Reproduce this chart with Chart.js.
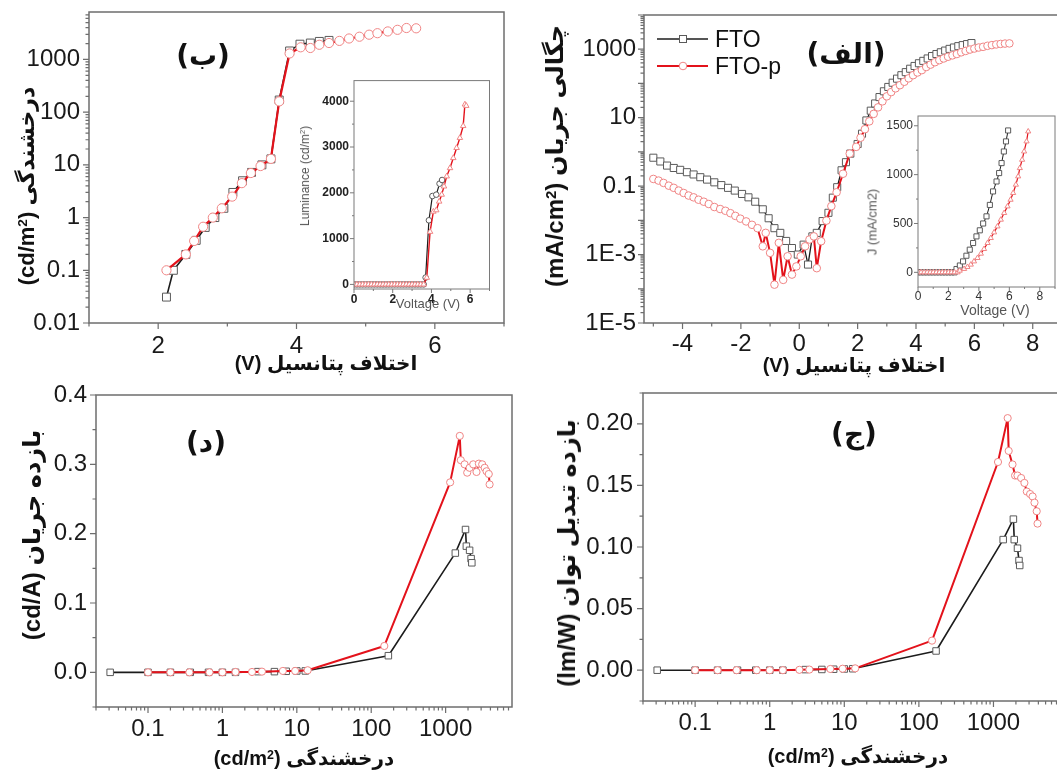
<!DOCTYPE html>
<html lang="fa"><head><meta charset="utf-8"><title>FTO / FTO-p</title>
<script src="https://cdn.jsdelivr.net/npm/chart.js@4.4.1/dist/chart.umd.min.js"></script>
<style>
html,body{margin:0;padding:0;background:#fff;overflow:hidden;}
body{width:1057px;height:771px;position:relative;font-family:"Liberation Sans","DejaVu Sans",sans-serif;color:#111;}
canvas{position:absolute;}
.t{position:absolute;white-space:nowrap;transform:translate(-50%,-50%);line-height:1;}
.fa{font-family:"Liberation Sans","DejaVu Sans",sans-serif;font-weight:bold;font-size:20px;color:#111;}
.fy{font-size:24px;}
.rot{transform:translate(-50%,-50%) rotate(-90deg);}
.lbl{font-family:"DejaVu Sans",sans-serif;font-weight:bold;font-size:28px;color:#111;}
.ins{font-family:"Liberation Sans",sans-serif;color:#555;}
.leg{position:absolute;font-family:"Liberation Sans",sans-serif;font-size:23px;color:#111;transform:translateY(-50%);line-height:1;}
sup{font-size:62%;vertical-align:0.5em;line-height:0;}
</style></head>
<body>
<canvas id="cB" width="520" height="380" style="left:0;top:0"></canvas>
<canvas id="cA" width="520" height="380" style="left:560px;top:0"></canvas>
<canvas id="cD" width="530" height="396" style="left:0;top:375px"></canvas>
<canvas id="cJ" width="520" height="399" style="left:560px;top:372px"></canvas>
<canvas id="cBi" width="200" height="250" style="left:296px;top:62px"></canvas>
<canvas id="cAi" width="200" height="205" style="left:862px;top:100px"></canvas>

<!-- panel (ب) -->
<div class="t fa" dir="rtl" style="left:326px;top:363px">اختلاف پتانسیل (V)</div>
<div class="t fa rot" dir="rtl" style="left:27px;top:186px;font-size:22px">درخشندگی (cd/m<sup>2</sup>)</div>
<div class="t lbl" dir="rtl" style="left:203px;top:56px">(ب)</div>
<div class="t ins rot" style="left:305px;top:176px;font-size:12px">Luminance (cd/m<sup>2</sup>)</div>
<div class="t ins" style="left:428px;top:303px;font-size:13px">Voltage (V)</div>

<!-- panel (الف) -->
<div class="t fa" dir="rtl" style="left:854px;top:365px">اختلاف پتانسیل (V)</div>
<div class="t fa fy rot" dir="rtl" style="left:555px;top:156px">چگالی جریان (mA/cm<sup>2</sup>)</div>
<div class="t lbl" dir="rtl" style="left:846px;top:54px">(الف)</div>
<div class="t ins rot" style="left:872px;top:222px;font-size:13px">J (mA/cm2)</div>
<div class="t ins" style="left:995px;top:310px;font-size:14px">Voltage (V)</div>
<svg style="position:absolute;left:657px;top:29px" width="52" height="20"><line x1="0" y1="10" x2="51" y2="10" stroke="#1c1c1c" stroke-width="1.5"/><rect x="22.5" y="6.5" width="7" height="7" fill="#fff" stroke="#5a5a5a" stroke-width="1"/></svg>
<div class="leg" style="left:715px;top:39px">FTO</div>
<svg style="position:absolute;left:657px;top:55.5px" width="52" height="20"><line x1="0" y1="10" x2="51" y2="10" stroke="#e3121b" stroke-width="2"/><circle cx="26" cy="10" r="3.8" fill="#fff" stroke="#f08585" stroke-width="1"/></svg>
<div class="leg" style="left:715px;top:65.5px">FTO-p</div>

<!-- panel (د) -->
<div class="t fa" dir="rtl" style="left:304px;top:758px">درخشندگی (cd/m<sup>2</sup>)</div>
<div class="t fa fy rot" dir="rtl" style="left:32px;top:535px">بازده جریان (cd/A)</div>
<div class="t lbl" dir="rtl" style="left:206px;top:443px">(د)</div>

<!-- panel (ج) -->
<div class="t fa" dir="rtl" style="left:858px;top:756px">درخشندگی (cd/m<sup>2</sup>)</div>
<div class="t fa fy rot" dir="rtl" style="left:567px;top:553px">بازده تبدیل توان (lm/W)</div>
<div class="t lbl" dir="rtl" style="left:854px;top:434px">(ج)</div>

<script>
// ---------- (ب) luminance vs voltage (log) ----------
const voltB_FTO  = [2.12, 2.22, 2.40, 2.55, 2.68, 2.82, 2.95, 3.08, 3.22, 3.35, 3.50, 3.63, 3.75, 3.90, 4.05, 4.20, 4.33, 4.47];
const lumB_FTO   = [0.031, 0.1, 0.2, 0.37, 0.65, 1.0, 1.5, 3.0, 5.0, 7.2, 10, 13, 170, 1450, 1950, 2050, 2200, 2300];
const voltB_FTOp = [2.12, 2.40, 2.52, 2.65, 2.79, 2.92, 3.07, 3.21, 3.34, 3.48, 3.63, 3.75, 3.90, 4.06, 4.20, 4.33, 4.47, 4.62, 4.76, 4.91, 5.05, 5.17, 5.32, 5.46, 5.59, 5.73];
const lumB_FTOp  = [0.1, 0.2, 0.36, 0.67, 1.0, 1.5, 2.5, 4.5, 7, 9.5, 13, 160, 1300, 1700, 1650, 1900, 2050, 2250, 2500, 2700, 2950, 3150, 3400, 3650, 3950, 3900];

// ---------- (ب) inset: luminance vs voltage (linear) ----------
const voltBi_FTO  = [0, 0.15, 0.3, 0.45, 0.6, 0.75, 0.9, 1.05, 1.2, 1.35, 1.5, 1.65, 1.8, 1.95, 2.1, 2.25, 2.4, 2.55, 2.7, 2.85, 3.0, 3.15, 3.3, 3.45, 3.6, 3.7, 3.87, 4.05, 4.25, 4.42, 4.55];
const lumBi_FTO   = [0, 0, 0, 0, 0, 0, 0, 0, 0, 0, 0, 0, 0, 0, 0, 0, 0, 0, 0, 0, 0, 0, 0, 0, 0, 150, 1400, 1930, 1960, 2200, 2280];
const voltBi_FTOp = [0, 0.15, 0.3, 0.45, 0.6, 0.75, 0.9, 1.05, 1.2, 1.35, 1.5, 1.65, 1.8, 1.95, 2.1, 2.25, 2.4, 2.55, 2.7, 2.85, 3.0, 3.15, 3.3, 3.45, 3.6, 3.76, 3.93, 4.1, 4.25, 4.4, 4.53, 4.65, 4.79, 4.96, 5.13, 5.3, 5.47, 5.64, 5.73, 5.8];
const lumBi_FTOp  = [0, 0, 0, 0, 0, 0, 0, 0, 0, 0, 0, 0, 0, 0, 0, 0, 0, 0, 0, 0, 0, 0, 0, 0, 0, 147, 1150, 1590, 1620, 1810, 1960, 2140, 2360, 2540, 2760, 2980, 3200, 3460, 3930, 3900];

// ---------- (الف) current density vs voltage (log) ----------
const voltA_FTO = [-5.0, -4.76, -4.53, -4.30, -4.08, -3.85, -3.62, -3.39, -3.16, -2.91, -2.67, -2.44, -2.21, -1.96, -1.74, -1.51, -1.25, -1.05, -0.85, -0.65, -0.45, -0.25, -0.05, 0.15, 0.3, 0.45, 0.6, 0.8, 1.0, 1.15, 1.3, 1.45, 1.6, 1.75,
  2.0, 2.15, 2.3, 2.45, 2.6, 2.75, 2.9, 3.05, 3.2, 3.35, 3.5, 3.65, 3.8, 3.95, 4.1, 4.25, 4.4, 4.55, 4.7, 4.85, 5.0, 5.15, 5.3, 5.45, 5.6, 5.75, 5.9];
const jA_FTO = [0.676, 0.525, 0.398, 0.339, 0.299, 0.255, 0.219, 0.182, 0.155, 0.129, 0.107, 0.089, 0.074, 0.059, 0.047, 0.035, 0.021, 0.0115, 0.0059, 0.0043, 0.0025, 0.00155, 0.001, 0.00195, 0.00051, 0.0034, 0.0043, 0.0095, 0.0166, 0.046, 0.093, 0.29, 0.50, 0.89,
  1.7, 3.4, 8.3, 16, 26, 40, 59, 79, 105, 138, 174, 214, 269, 324, 389, 457, 537, 631, 724, 813, 912, 1023, 1122, 1230, 1318, 1413, 1514];
const voltA_FTOp = [-5.0, -4.82, -4.65, -4.47, -4.3, -4.13, -3.96, -3.79, -3.62, -3.45, -3.27, -3.1, -2.91, -2.71, -2.53, -2.36, -2.19, -2.02, -1.82, -1.62, -1.43,
  -1.25, -1.15, -1.0, -0.85, -0.7, -0.55, -0.4, -0.25, -0.1, 0.05, 0.2, 0.35, 0.5, 0.6, 0.75, 0.93, 1.1, 1.28, 1.5, 1.73,
  1.95, 2.1, 2.25, 2.4, 2.55, 2.7, 2.85, 3.0, 3.15, 3.3, 3.45, 3.6, 3.75, 3.9, 4.05, 4.2, 4.35, 4.5, 4.65, 4.8, 4.95, 5.1, 5.25, 5.4, 5.55, 5.7, 5.85, 6.0, 6.15, 6.3, 6.45, 6.6, 6.75, 6.9, 7.05, 7.2];
const jA_FTOp = [0.162, 0.145, 0.124, 0.103, 0.089, 0.074, 0.063, 0.053, 0.047, 0.040, 0.035, 0.030, 0.0245, 0.0214, 0.019, 0.0162, 0.0135, 0.0112, 0.0093, 0.0074, 0.0059,
  0.00174, 0.0043, 0.00112, 0.000132, 0.0022, 0.000182, 0.00089, 0.00026, 0.00045, 0.00089, 0.00174, 0.00275, 0.0034, 0.0004, 0.00245, 0.0098, 0.026, 0.066, 0.23, 0.89,
  1.4, 2.6, 4.6, 7.8, 12.9, 20, 30, 42, 56, 72, 89, 112, 141, 174, 209, 245, 302, 355, 417, 479, 537, 603, 661, 724, 813, 891, 977, 1047, 1122, 1175, 1259, 1318, 1380, 1429, 1462, 1479];

// ---------- (الف) inset: J vs voltage (linear) ----------
const voltAi_FTO = [0, 0.2, 0.4, 0.6, 0.8, 1.0, 1.2, 1.4, 1.6, 1.8, 2.0, 2.2, 2.4, 2.53, 2.75, 2.96, 3.18, 3.4, 3.62, 3.84, 4.06, 4.28, 4.5, 4.72, 4.93, 5.16, 5.33, 5.49, 5.64, 5.78, 5.92];
const jAi_FTO    = [0, 0, 0, 0, 0, 0, 0, 0, 0, 0, 0, 0, 0, 34, 70, 112, 170, 232, 300, 368, 430, 500, 573, 690, 828, 930, 1016, 1118, 1237, 1340, 1452];
const voltAi_FTOp = [0, 0.2, 0.4, 0.6, 0.8, 1.0, 1.2, 1.4, 1.6, 1.8, 2.0, 2.2, 2.4, 2.6, 2.74, 3.03, 3.25, 3.47, 3.68, 3.91, 4.13, 4.34, 4.57, 4.78, 5.0, 5.22, 5.44, 5.66, 5.88, 6.08, 6.25, 6.43, 6.58, 6.69, 6.84, 6.97, 7.13, 7.24];
const jAi_FTOp    = [0, 0, 0, 0, 0, 0, 0, 0, 0, 0, 0, 0, 0, 0, 17, 35, 55, 79, 112, 147, 191, 239, 300, 351, 409, 470, 539, 607, 675, 743, 812, 897, 982, 1067, 1152, 1237, 1340, 1442];

// ---------- (د) & (ج) efficiencies vs luminance ----------
const lumE_FTO  = [0.031, 0.1, 0.2, 0.37, 0.65, 1.0, 1.5, 3.0, 5.0, 7.2, 10, 13, 170, 1350, 1850, 1900, 2100, 2200, 2250];
const ceD_FTO   = [0, 0, 0, 0, 0, 0, 0, 0.001, 0.001, 0.0015, 0.002, 0.002, 0.024, 0.172, 0.206, 0.182, 0.176, 0.164, 0.158];
const peJ_FTO   = [0, 0, 0, 0, 0, 0, 0, 0.0005, 0.0006, 0.0008, 0.001, 0.0012, 0.0156, 0.106, 0.1226, 0.106, 0.099, 0.089, 0.085];
const lumE_FTOp = [0.1, 0.2, 0.36, 0.67, 1.0, 1.5, 2.5, 3.4, 6.5, 9.5, 14, 150, 1150, 1550, 1600, 1800, 1950, 2100, 2350, 2600, 2800, 3100, 3350, 3550, 3800, 3900];
const ceD_FTOp  = [0, 0, 0, 0, 0, 0.0005, 0.0005, 0.001, 0.002, 0.002, 0.003, 0.038, 0.274, 0.341, 0.306, 0.300, 0.288, 0.295, 0.300, 0.289, 0.301, 0.300, 0.295, 0.290, 0.286, 0.271];
const peJ_FTOp  = [0, 0, 0, 0, 0, 0, 0.0003, 0.0005, 0.001, 0.0012, 0.0015, 0.024, 0.169, 0.2046, 0.178, 0.167, 0.158, 0.158, 0.156, 0.152, 0.145, 0.143, 0.141, 0.136, 0.129, 0.119];

// ---------- tick labels ----------
const ticksB_x = [2, 4, 6];                    const labelsB_x = ['2', '4', '6'];
const ticksB_y = [0.01, 0.1, 1, 10, 100, 1000]; const labelsB_y = ['0.01', '0.1', '1', '10', '100', '1000'];
const ticksA_x = [-4, -2, 0, 2, 4, 6, 8];       const labelsA_x = ['-4', '-2', '0', '2', '4', '6', '8'];
const ticksA_y = [1e-5, 1e-3, 0.1, 10, 1000];   const labelsA_y = ['1E-5', '1E-3', '0.1', '10', '1000'];
const ticksL_x = [0.1, 1, 10, 100, 1000];       const labelsL_x = ['0.1', '1', '10', '100', '1000'];
const ticksD_y = [0, 0.1, 0.2, 0.3, 0.4];       const labelsD_y = ['0.0', '0.1', '0.2', '0.3', '0.4'];
const ticksJ_y = [0, 0.05, 0.1, 0.15, 0.2];     const labelsJ_y = ['0.00', '0.05', '0.10', '0.15', '0.20'];
const ticksBi_x = [0, 2, 4, 6];                 const labelsBi_x = ['0', '2', '4', '6'];
const ticksBi_y = [0, 1000, 2000, 3000, 4000];  const labelsBi_y = ['0', '1000', '2000', '3000', '4000'];
const ticksAi_x = [0, 2, 4, 6, 8];              const labelsAi_x = ['0', '2', '4', '6', '8'];
const ticksAi_y = [0, 500, 1000, 1500];         const labelsAi_y = ['0', '500', '1000', '1500'];

// ---------- helpers ----------
const BLACK_LINE = '#1c1c1c', BLACK_MK = '#5a5a5a', RED_LINE = '#e3121b', RED_MK = '#f08585';
function pts(xs, ys) { return xs.map((x, i) => ({ x: x, y: ys[i] })); }
function series(xs, ys, s) {
  return Object.assign({ data: pts(xs, ys), showLine: true, tension: 0, fill: false,
    pointBackgroundColor: '#fff', pointBorderWidth: 1, pointHoverRadius: 0 }, s);
}
function logMarks(min, max, mult) {
  const out = [];
  for (let e = Math.floor(Math.log10(min)) - 1; e <= Math.ceil(Math.log10(max)); e++)
    mult.forEach(m => { const v = m * Math.pow(10, e); if (v >= min * 0.999 && v <= max * 1.001) out.push(v); });
  return out;
}
const MINOR = [2, 3, 4, 5, 6, 7, 8, 9];

function decor(o) {
  return { id: 'decor', afterDraw(chart) {
    const c = chart.ctx, a = chart.chartArea, xs = chart.scales.x, ys = chart.scales.y;
    c.save();
    c.strokeStyle = o.frame; c.lineWidth = o.tw; c.beginPath();
    const inX = p => p >= a.left - 0.5 && p <= a.right + 0.5;
    const inY = p => p >= a.top - 0.5 && p <= a.bottom + 0.5;
    const tx = (vals, len) => vals.forEach(v => { const p = xs.getPixelForValue(v); if (inX(p)) { c.moveTo(p, a.bottom); c.lineTo(p, a.bottom + len); } });
    const ty = (vals, len) => vals.forEach(v => { const p = ys.getPixelForValue(v); if (inY(p)) { c.moveTo(a.left, p); c.lineTo(a.left - len, p); } });
    tx(o.xMajor, o.tl); tx(o.xMinor, o.tm); ty(o.yMajor, o.tl); ty(o.yMinor, o.tm);
    c.stroke();
    c.lineWidth = o.fw;
    c.strokeRect(a.left, a.top, a.right - a.left, a.bottom - a.top);
    c.restore();
  } };
}

function makeChart(id, o) {
  const font = { family: 'Liberation Sans', size: o.fs, weight: o.fwt || 'normal' };
  return new Chart(document.getElementById(id), {
    type: 'line',
    data: { datasets: o.datasets },
    options: {
      responsive: false, animation: false, devicePixelRatio: 1,
      layout: { padding: { left: 0, top: o.T, right: o.R, bottom: 0 } },
      plugins: { legend: { display: false }, tooltip: { enabled: false } },
      elements: { line: { borderJoinStyle: 'round' } },
      scales: {
        x: { type: o.xType, min: o.xMin, max: o.xMax,
          grid: { display: false, drawTicks: false }, border: { display: false },
          afterBuildTicks: s => { s.ticks = o.xTicks.map(v => ({ value: v })); },
          afterFit: s => { s.height = o.H; s.paddingLeft = 0; s.paddingRight = 0; },
          ticks: { autoSkip: false, maxRotation: 0, minRotation: 0, padding: o.xPad, color: o.tc, font: font,
            callback: (v, i) => o.xLabels[i] } },
        y: { type: o.yType, min: o.yMin, max: o.yMax,
          grid: { display: false, drawTicks: false }, border: { display: false },
          afterBuildTicks: s => { s.ticks = o.yTicks.map(v => ({ value: v })); },
          afterFit: s => { s.width = o.W; s.paddingTop = 0; s.paddingBottom = 0; },
          ticks: { autoSkip: false, padding: o.yPad, color: o.tc, font: font,
            callback: (v, i) => o.yLabels[i] } }
      }
    },
    plugins: [decor(o)]
  });
}

// ---------- (ب) ----------
makeChart('cB', {
  xType: 'linear', xMin: 1, xMax: 7, yType: 'logarithmic', yMin: 0.01, yMax: 7950,
  xTicks: ticksB_x, xLabels: labelsB_x, yTicks: ticksB_y, yLabels: labelsB_y,
  xMajor: ticksB_x, xMinor: [1, 3, 5, 7], yMajor: logMarks(0.01, 7950, [1]), yMinor: logMarks(0.01, 7950, MINOR),
  W: 89, T: 12, R: 16, H: 57, fs: 24, tc: '#1a1a1a', xPad: 9, yPad: 9,
  frame: '#6e6e6e', fw: 1.5, tw: 1.2, tl: 6, tm: 3.5,
  datasets: [
    series(voltB_FTOp, lumB_FTOp, { borderColor: RED_LINE, borderWidth: 2.2, pointStyle: 'circle', pointRadius: 4.6, pointBorderColor: RED_MK }),
    series(voltB_FTO, lumB_FTO, { borderColor: BLACK_LINE, borderWidth: 1.6, pointStyle: 'rect', pointRadius: 5.6, pointBorderColor: BLACK_MK })
  ]
});

// ---------- (ب) inset ----------
makeChart('cBi', {
  xType: 'linear', xMin: 0, xMax: 7, yType: 'linear', yMin: -100, yMax: 4450,
  xTicks: ticksBi_x, xLabels: labelsBi_x, yTicks: ticksBi_y, yLabels: labelsBi_y,
  xMajor: ticksBi_x, xMinor: [1, 3, 5, 7], yMajor: ticksBi_y, yMinor: [500, 1500, 2500, 3500],
  W: 58, T: 18.6, R: 6.5, H: 23, fs: 12, fwt: 'bold', tc: '#222', xPad: 3, yPad: 5,
  frame: '#7a7a7a', fw: 1, tw: 1, tl: 4, tm: 2,
  datasets: [
    series(voltBi_FTOp, lumBi_FTOp, { borderColor: RED_LINE, borderWidth: 1.4, pointStyle: 'triangle', pointRadius: 3.2, pointBorderColor: RED_MK }),
    series(voltBi_FTO, lumBi_FTO, { borderColor: BLACK_LINE, borderWidth: 1.2, pointStyle: 'circle', pointRadius: 2.8, pointBorderColor: BLACK_MK })
  ]
});

// ---------- (الف) ----------
makeChart('cA', {
  xType: 'linear', xMin: -5.32, xMax: 8.9, yType: 'logarithmic', yMin: 1e-5, yMax: 1e4,
  xTicks: ticksA_x, xLabels: labelsA_x, yTicks: ticksA_y, yLabels: labelsA_y,
  xMajor: ticksA_x, xMinor: [-5, -3, -1, 1, 3, 5, 7], yMajor: logMarks(1e-5, 1e4, [1]), yMinor: logMarks(1e-5, 1e4, MINOR),
  W: 84, T: 15, R: 21, H: 57, fs: 24, tc: '#1a1a1a', xPad: 7, yPad: 8,
  frame: '#6e6e6e', fw: 1.5, tw: 1.2, tl: 6, tm: 3.5,
  datasets: [
    series(voltA_FTOp, jA_FTOp, { borderColor: RED_LINE, borderWidth: 2, pointStyle: 'circle', pointRadius: 3.8, pointBorderColor: RED_MK }),
    series(voltA_FTO, jA_FTO, { borderColor: BLACK_LINE, borderWidth: 1.3, pointStyle: 'rect', pointRadius: 5, pointBorderColor: BLACK_MK })
  ]
});

// ---------- (الف) inset ----------
makeChart('cAi', {
  xType: 'linear', xMin: 0, xMax: 9, yType: 'linear', yMin: -150, yMax: 1600,
  xTicks: ticksAi_x, xLabels: labelsAi_x, yTicks: ticksAi_y, yLabels: labelsAi_y,
  xMajor: ticksAi_x, xMinor: [1, 3, 5, 7, 9], yMajor: ticksAi_y, yMinor: [250, 750, 1250],
  W: 56, T: 16, R: 7, H: 18, fs: 12, tc: '#333', xPad: 2, yPad: 5,
  frame: '#7a7a7a', fw: 1, tw: 1, tl: 4, tm: 2,
  datasets: [
    series(voltAi_FTOp, jAi_FTOp, { borderColor: RED_LINE, borderWidth: 1.2, pointStyle: 'triangle', pointRadius: 3, pointBorderColor: RED_MK }),
    series(voltAi_FTO, jAi_FTO, { borderColor: BLACK_LINE, borderWidth: 1, pointStyle: 'rect', pointRadius: 3.6, pointBorderColor: BLACK_MK })
  ]
});

// ---------- (د) ----------
makeChart('cD', {
  xType: 'logarithmic', xMin: 0.02, xMax: 7800, yType: 'linear', yMin: -0.05, yMax: 0.4,
  xTicks: ticksL_x, xLabels: labelsL_x, yTicks: ticksD_y, yLabels: labelsD_y,
  xMajor: logMarks(0.02, 7800, [1]), xMinor: logMarks(0.02, 7800, MINOR), yMajor: ticksD_y, yMinor: [-0.05, 0.05, 0.15, 0.25, 0.35],
  W: 96, T: 20, R: 18, H: 64, fs: 24, tc: '#1a1a1a', xPad: 8, yPad: 9,
  frame: '#6e6e6e', fw: 1.5, tw: 1.2, tl: 6, tm: 3.5,
  datasets: [
    series(lumE_FTOp, ceD_FTOp, { borderColor: RED_LINE, borderWidth: 2, pointStyle: 'circle', pointRadius: 3.6, pointBorderColor: RED_MK }),
    series(lumE_FTO, ceD_FTO, { borderColor: BLACK_LINE, borderWidth: 1.6, pointStyle: 'rect', pointRadius: 4.6, pointBorderColor: BLACK_MK })
  ]
});

// ---------- (ج) ----------
makeChart('cJ', {
  xType: 'logarithmic', xMin: 0.02, xMax: 7800, yType: 'linear', yMin: -0.025, yMax: 0.225,
  xTicks: ticksL_x, xLabels: labelsL_x, yTicks: ticksJ_y, yLabels: labelsJ_y,
  xMajor: logMarks(0.02, 7800, [1]), xMinor: logMarks(0.02, 7800, MINOR), yMajor: ticksJ_y, yMinor: [-0.025, 0.025, 0.075, 0.125, 0.175, 0.225],
  W: 83, T: 21, R: 20, H: 70, fs: 24, tc: '#1a1a1a', xPad: 8, yPad: 10,
  frame: '#6e6e6e', fw: 1.5, tw: 1.2, tl: 6, tm: 3.5,
  datasets: [
    series(lumE_FTOp, peJ_FTOp, { borderColor: RED_LINE, borderWidth: 2, pointStyle: 'circle', pointRadius: 3.6, pointBorderColor: RED_MK }),
    series(lumE_FTO, peJ_FTO, { borderColor: BLACK_LINE, borderWidth: 1.6, pointStyle: 'rect', pointRadius: 4.6, pointBorderColor: BLACK_MK })
  ]
});
</script>
</body></html>
